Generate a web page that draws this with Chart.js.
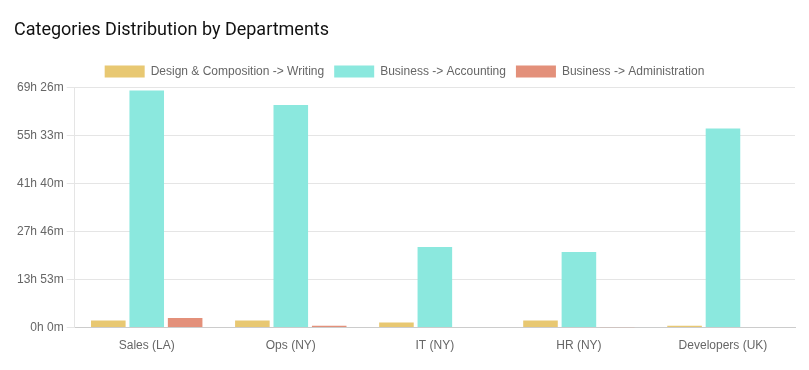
<!DOCTYPE html>
<html>
<head>
<meta charset="utf-8">
<script src="https://cdn.jsdelivr.net/npm/chart.js@4"></script>
<style>
  html, body { margin: 0; padding: 0; background: #fff; }
  #wrap { width: 809px; height: 370px; position: relative; }
</style>
</head>
<body>
<div id="wrap"><canvas id="deptChart"></canvas></div>
<script>
// departments on the x axis
const departments = ['Sales (LA)', 'Ops (NY)', 'IT (NY)', 'HR (NY)', 'Developers (UK)'];

// time spent per category, in seconds
const writingSecs = [7500, 7500, 5200, 7500, 2000];
const accountingSecs = [247000, 232000, 84000, 78800, 207300];
const administrationSecs = [10000, 2000, 600, 400, 0];

const seriesLabels = [
    'Design & Composition -> Writing',
    'Business -> Accounting',
    'Business -> Administration'
];

// y axis ticks every 50000s (13h 53m)
const tickStep = 50000;
const tickMax = 250000;

function formatDuration(secs) {
    const h = Math.floor(secs / 3600);
    const m = Math.floor((secs % 3600) / 60);
    return h + 'h ' + m + 'm';
}

document.addEventListener('DOMContentLoaded', function() {
    const ctx = document.getElementById('deptChart').getContext('2d');

    new Chart(ctx, {
        type: 'bar',
        data: {
            labels: departments,
            datasets: [
                {
                    label: seriesLabels[0],
                    data: writingSecs,
                    backgroundColor: '#e8c872',
                    borderWidth: 0
                },
                {
                    label: seriesLabels[1],
                    data: accountingSecs,
                    backgroundColor: '#8be8de',
                    borderWidth: 0
                },
                {
                    label: seriesLabels[2],
                    data: administrationSecs,
                    backgroundColor: '#e3907a',
                    borderWidth: 0
                }
            ]
        },
        options: {
            responsive: true,
            maintainAspectRatio: false,
            animation: false,
            layout: {
                padding: { left: 14, right: 14, top: 20, bottom: 14 }
            },
            plugins: {
                title: {
                    display: true,
                    text: 'Categories Distribution by Departments',
                    align: 'start',
                    color: '#111',
                    font: { family: 'Roboto', size: 18, weight: 'normal' },
                    padding: { top: 0, bottom: 14 }
                },
                legend: {
                    position: 'top',
                    labels: {
                        color: '#666',
                        font: { size: 12 },
                        boxWidth: 40,
                        boxHeight: 12,
                        padding: 10
                    }
                },
                tooltip: {
                    callbacks: {
                        label: function(context) {
                            return context.dataset.label + ': ' + formatDuration(context.raw);
                        }
                    }
                }
            },
            scales: {
                x: {
                    grid: { display: false },
                    border: { color: '#ccc' },
                    ticks: { color: '#666', font: { size: 12 } }
                },
                y: {
                    min: 0,
                    max: tickMax,
                    grid: { color: '#e5e5e5' },
                    border: { color: '#e5e5e5' },
                    ticks: {
                        stepSize: tickStep,
                        color: '#666',
                        font: { size: 12 },
                        callback: function(value) {
                            return formatDuration(value);
                        }
                    }
                }
            }
        }
    });
});
</script>
</body>
</html>
